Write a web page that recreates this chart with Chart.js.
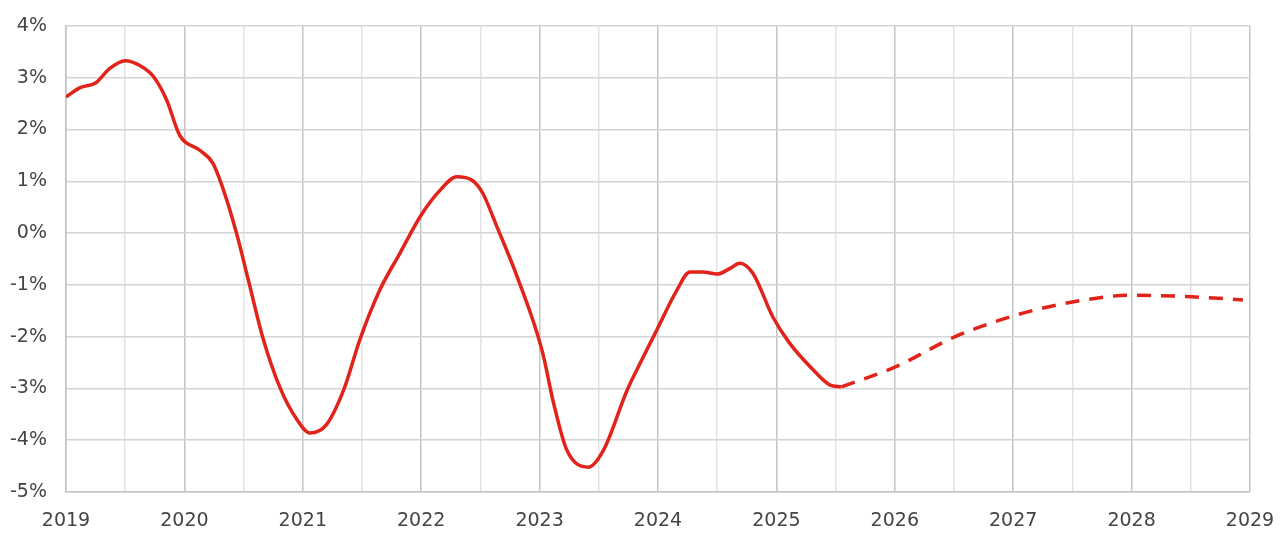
<!DOCTYPE html>
<html>
<head>
<meta charset="utf-8">
<script src="https://cdn.jsdelivr.net/npm/chart.js@4/dist/chart.umd.min.js"></script>
<style>
  html, body { margin: 0; padding: 0; background: #fff; }
  #wrap { width: 1280px; height: 541px; }
</style>
</head>
<body>
<div id="wrap"><canvas id="chart" width="1280" height="541"></canvas></div>
<script>
// Données (année décimale, variation en %)
const actualYears = [2019.0, 2019.12, 2019.25, 2019.37, 2019.5, 2019.62, 2019.74, 2019.85, 2019.96, 2020.13,
  2020.24, 2020.33, 2020.44, 2020.55, 2020.66, 2020.81, 2020.95, 2021.06, 2021.2, 2021.35, 2021.48, 2021.65,
  2021.82, 2022.0, 2022.16, 2022.3, 2022.43, 2022.52, 2022.64, 2022.81, 2023.02, 2023.12, 2023.23, 2023.41,
  2023.54, 2023.74, 2023.85, 2023.99, 2024.16, 2024.27, 2024.38, 2024.5, 2024.61, 2024.69, 2024.8, 2024.97,
  2025.11, 2025.31, 2025.45, 2025.55];
const actualValues = [2.63, 2.81, 2.9, 3.18, 3.33, 3.24, 3.02, 2.57, 1.89, 1.6,
  1.35, 0.83, 0.0, -1.0, -2.0, -3.0, -3.6, -3.86, -3.7, -3.0, -2.07, -1.1,
  -0.39, 0.35, 0.83, 1.09, 1.02, 0.77, 0.12, -0.84, -2.26, -3.3, -4.19, -4.52,
  -4.19, -3.03, -2.51, -1.87, -1.1, -0.75, -0.75, -0.79, -0.68, -0.58, -0.77, -1.62,
  -2.12, -2.64, -2.93, -2.97];

const forecastYears = [2025.55, 2026.0, 2026.51, 2027.0, 2027.5, 2028.0, 2028.51, 2028.94];
const forecastValues = [-2.97, -2.59, -2.0, -1.6, -1.33, -1.2, -1.23, -1.29];

const yearLabels = ['2019', '2020', '2021', '2022', '2023', '2024', '2025', '2026', '2027', '2028', '2029'];

const red = '#e2231a';
const tickFont = { family: "'DejaVu Sans', sans-serif", size: 19 };

const toPoints = (xs, ys) => xs.map((x, i) => ({ x: x, y: ys[i] }));

const ctx = document.getElementById('chart').getContext('2d');
new Chart(ctx, {
  type: 'line',
  data: {
    datasets: [
      {
        data: toPoints(actualYears, actualValues),
        borderColor: red,
        borderWidth: 3.5,
        pointRadius: 0,
        cubicInterpolationMode: 'monotone',
        fill: false
      },
      {
        data: toPoints(forecastYears, forecastValues),
        borderColor: red,
        borderWidth: 3.5,
        borderDash: [14, 10],
        pointRadius: 0,
        cubicInterpolationMode: 'monotone',
        fill: false
      }
    ]
  },
  options: {
    responsive: false,
    animation: false,
    layout: { padding: { top: 26, right: 30, left: 0, bottom: 0 } },
    plugins: { legend: { display: false }, tooltip: { enabled: false } },
    scales: {
      x: {
        type: 'linear',
        min: 2019,
        max: 2029,
        afterFit: (scale) => {
          scale.height = 49;
          scale.paddingLeft = 0;
          scale.paddingRight = 0;
        },
        afterBuildTicks: (scale) => {
          const t = [];
          for (let v = 2019; v <= 2029.001; v += 0.5) t.push({ value: v });
          scale.ticks = t;
        },
        border: { color: '#c4c4c8', width: 1.5 },
        grid: {
          color: (c) => (c.tick && Number.isInteger(c.tick.value)) ? '#c4c4c8' : '#e3e3e6',
          lineWidth: 1.5,
          drawTicks: false
        },
        ticks: {
          autoSkip: false,
          maxRotation: 0,
          padding: 18,
          color: '#444',
          font: tickFont,
          callback: (v) => Number.isInteger(v) ? yearLabels[v - 2019] : ''
        }
      },
      y: {
        min: -5,
        max: 4,
        afterFit: (scale) => {
          scale.width = 66;
          scale.paddingTop = 0;
          scale.paddingBottom = 0;
        },
        border: { color: '#c4c4c8', width: 1.5 },
        grid: { color: '#d4d4d8', lineWidth: 1.5, drawTicks: false },
        ticks: {
          stepSize: 1,
          padding: 19,
          color: '#444',
          font: tickFont,
          callback: (v) => v + '%'
        }
      }
    }
  }
});
</script>
</body>
</html>
